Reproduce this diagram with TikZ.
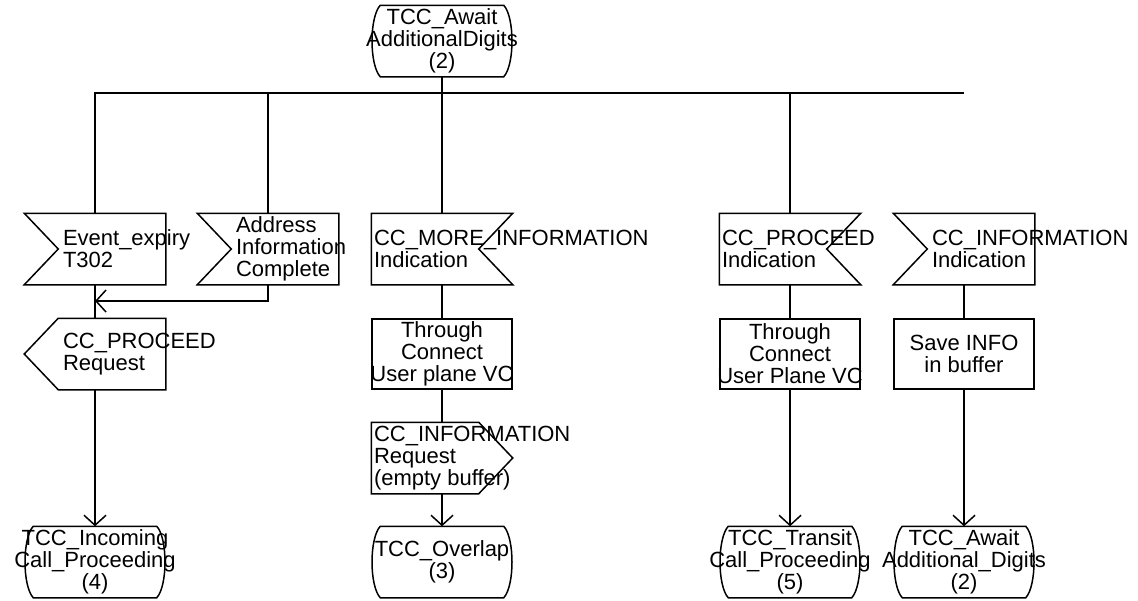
\documentclass[tikz,border=0pt]{standalone}
\usepackage{fontspec}
\setmainfont{Liberation Sans}
\usetikzlibrary{arrows.meta}
\newcommand{\sdlfont}{\fontsize{11pt}{11pt}\selectfont}

\begin{document}
\begin{tikzpicture}[
  x=0.5pt, y=-0.5pt, line width=0.75pt,
  sym/.style={minimum width=70pt, minimum height=35pt, inner sep=0pt},
  task/.style={sym, draw},
  statebox/.style={sym, minimum width=69pt},
  txt/.style={font=\sdlfont, inner sep=0pt},
  mid/.style={label={[txt, align=center]center:#1}},
  lft/.style={label={[txt, align=left, anchor=west, xshift=19pt]west:#1}},
  rgt/.style={label={[txt, align=left, anchor=west, xshift=1pt]west:#1}},
  arrow/.style={-{Straight Barb[length=5pt, width=11pt]}}
]
\useasboundingbox (0,0) rectangle (1138,600);

% start state
\node[statebox, mid={TCC\_Await\\AdditionalDigits\\(2)}] (s0) at (442,41) {};

% inputs
\node[sym, lft={Event\_expiry\\T302}] (ev) at (95,249) {};
\node[sym, lft={Address\\Information\\Complete}] (adr) at (268,249) {};
\node[sym, rgt={CC\_MORE\_INFORMATION\\Indication}] (more) at (442,249) {};
\node[sym, rgt={CC\_PROCEED\\Indication}] (pro) at (790,249) {};
\node[sym, lft={CC\_INFORMATION\\Indication}] (inf) at (964,249) {};

% tasks and outputs
\node[sym, lft={CC\_PROCEED\\Request}] (out1) at (95,354) {};
\node[task, mid={Through\\Connect\\User plane VC}] (p1) at (442,354) {};
\node[task, mid={Through\\Connect\\User Plane VC}] (p2) at (790,354) {};
\node[task, mid={Save INFO\\in buffer}] (p3) at (964,354) {};
\node[sym, rgt={CC\_INFORMATION\\Request\\(empty buffer)}] (o2) at (442,458) {};

% next states
\node[statebox, mid={TCC\_Incoming\\Call\_Proceeding\\(4)}] (s1) at (95,562) {};
\node[statebox, mid={TCC\_Overlap\\(3)}] (s2) at (442,562) {};
\node[statebox, mid={TCC\_Transit\\Call\_Proceeding\\(5)}] (s3) at (790,562) {};
\node[statebox, mid={TCC\_Await\\Additional\_Digits\\(2)}] (s4) at (964,562) {};

% symbol outlines
\foreach \n in {ev,adr,inf}
  \draw (\n.north west) -- (\n.north east) -- (\n.south east) -- (\n.south west)
    -- ([xshift=17pt]\n.west) -- cycle;
\foreach \n in {more,pro}
  \draw (\n.north west) -- (\n.north east) -- ([xshift=-17pt]\n.east)
    -- (\n.south east) -- (\n.south west) -- cycle;
\draw (out1.west) -- ([xshift=17pt]out1.north west) -- (out1.north east)
  -- (out1.south east) -- ([xshift=17pt]out1.south west) -- cycle;
\draw (o2.north west) -- ([xshift=-17pt]o2.north east) -- (o2.east)
  -- ([xshift=-17pt]o2.south east) -- (o2.south west) -- cycle;
\foreach \n in {s0,s1,s2,s3,s4}
  \draw ([xshift=4pt]\n.north west) -- ([xshift=-4pt]\n.north east)
    .. controls ([xshift=1.5pt,yshift=-6pt]\n.north east) and ([xshift=1.5pt,yshift=6pt]\n.south east) .. ([xshift=-4pt]\n.south east)
    -- ([xshift=4pt]\n.south west)
    .. controls ([xshift=-1.5pt,yshift=6pt]\n.south west) and ([xshift=-1.5pt,yshift=-6pt]\n.north west) .. cycle;

% connectors
\coordinate (bus) at (442,93);
\coordinate (merge) at (95,301);
\draw (s0) -- (bus);
\draw (ev.north) |- (inf.north |- bus);
\foreach \n in {adr,more,pro}
  \draw (\n.north) -- (\n.north |- bus);
\draw (ev) -- (out1);
\draw[arrow] (adr.south) |- (merge);
\draw[arrow] (out1) -- (s1);
\draw (more) -- (p1);
\draw (p1) -- (o2);
\draw[arrow] (o2) -- (s2);
\draw (pro) -- (p2);
\draw[arrow] (p2) -- (s3);
\draw (inf) -- (p3);
\draw[arrow] (p3) -- (s4);
\end{tikzpicture}
\end{document}
